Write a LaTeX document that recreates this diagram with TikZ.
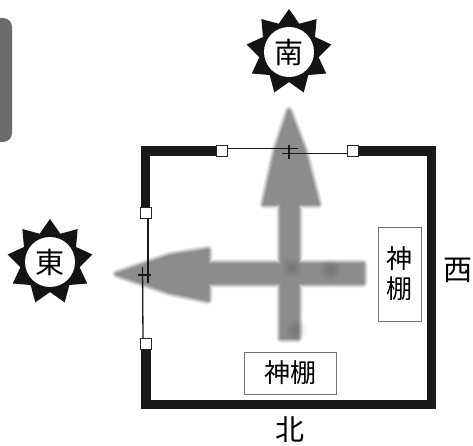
\documentclass[tikz,border=0pt]{standalone}
\usepackage{fontspec}
\setmainfont{Noto Sans CJK JP}
\usetikzlibrary{calc,shapes.geometric}

\begin{document}
\begin{tikzpicture}[
        x=1pt, y=-1pt,
        wall/.style={line width=9.5pt, line join=miter, color=black!90},
    ]
    % sun with the direction in it
    \tikzstyle{sunstar}=[star, star points=9, star point ratio=1.43, inner sep=0, minimum size=86pt, fill=black!92]
    \tikzstyle{sundisc}=[circle, inner sep=0, minimum size=50pt, fill=white, font=\fontsize{29}{29}\selectfont]
    % windows and shelves
    \tikzstyle{win}=[inner sep=0, minimum size=11pt, draw=black!85, line width=.7pt, fill=white]
    \tikzstyle{shelf}=[inner sep=0, draw=black!55, line width=.5pt, fill=white, font=\fontsize{26}{30}\selectfont]
    \tikzstyle{dir}=[inner sep=0, font=\fontsize{29}{29}\selectfont]
    \tikzstyle{leaf}=[color=black!90]
    \useasboundingbox (0,0) rectangle (473,446);

    % tab at the page edge
    \fill[color=black!58] (0,18) [rounded corners=9pt] -- (12,18) -- (12,142) [sharp corners] -- (0,142) -- cycle;

    % blurred arrows, light to dark
    \foreach \w/\c in {10/6,8/14,6/24,4/34,2/41,.5/45} {
        \fill[color=black!\c, draw=black!\c, line width=\w pt, line join=round]
            (289,111) -- (304,150) -- (318,204) -- (298,204) -- (298,338) -- (281,338) -- (281,204) -- (264,204) -- (276,150) -- cycle;
        \fill[color=black!\c, draw=black!\c, line width=\w pt, line join=round]
            (117,274) -- (170,256) -- (208,250) -- (208,264) -- (363,264) -- (363,283) -- (208,283) -- (208,300) -- (170,292) -- cycle;
    }
    % darker patches in the paint
    \foreach \r in {3,5,...,11} {
        \fill[black, opacity=.025] (292,268) circle (\r);
        \fill[black, opacity=.025] (330,270) circle (\r);
        \fill[black, opacity=.025] (296,330) circle (\r);
    }

    % room
    \coordinate (CTL) at (145.5,151);
    \coordinate (CTR) at (431.5,151);
    \coordinate (CBR) at (431.5,404.5);
    \coordinate (CBL) at (146,404.5);
    \coordinate (ETL) at (222,151);
    \coordinate (ETR) at (353,151);
    \coordinate (ELT) at (145.5,213);
    \coordinate (ELB) at (146,344);
    \draw[wall] (ELT) -- (CTL) -- (ETL);
    \draw[wall] (ETR) -- (CTR) -- (CBR) -- (CBL) -- (ELB);
    \node[win] (WTL) at (ETL) {};
    \node[win] (WTR) at (ETR) {};
    \node[win] (WLT) at (ELT) {};
    \node[win] (WLB) at (ELB) {};

    % sliding doors
    \coordinate (DTa) at ($(WTL.east)+(0,-2.5)$);
    \coordinate (DTb) at (298,148.5);
    \coordinate (DTc) at (282,153.5);
    \coordinate (DTd) at ($(WTR.west)+(0,2.5)$);
    \coordinate (DTu) at (289,145);
    \coordinate (DTv) at (289,159);
    \draw[leaf, line width=1.1pt] (DTa) -- (DTb);
    \draw[leaf, line width=1.5pt] (DTc) -- (DTd);
    \draw[leaf, line width=1.1pt] (DTu) -- (DTv);
    \coordinate (DLa) at ($(WLT.south)+(2.5,0)$);
    \coordinate (DLb) at (148,283);
    \coordinate (DLc) at (142.5,267);
    \coordinate (DLd) at ($(WLB.north)+(-3,0)$);
    \coordinate (DLu) at (138,275);
    \coordinate (DLv) at (151,275);
    \draw[leaf, line width=1.5pt] (DLa) -- (DLb);
    \draw[leaf, line width=1.3pt] (DLc) -- (DLd);
    \draw[leaf, line width=1.1pt] (DLu) -- (DLv);

    % shelves
    \node[shelf, minimum width=43pt, minimum height=94pt, align=center] (SHR) at (399.5,274) {神\\棚};
    \node[shelf, minimum width=92pt, minimum height=42pt] (SHB) at (290,373) {神棚};

    % directions
    \node[sunstar] (STS) at (289,52) {};
    \node[sundisc] (SOUTH) at (STS.center) {南};
    \node[sunstar] (STE) at (50,262) {};
    \node[sundisc] (EAST) at (STE.center) {東};
    \node[dir] (WEST) at (458,270) {西};
    \node[dir] (NORTH) at (290,430) {北};
\end{tikzpicture}
\end{document}
